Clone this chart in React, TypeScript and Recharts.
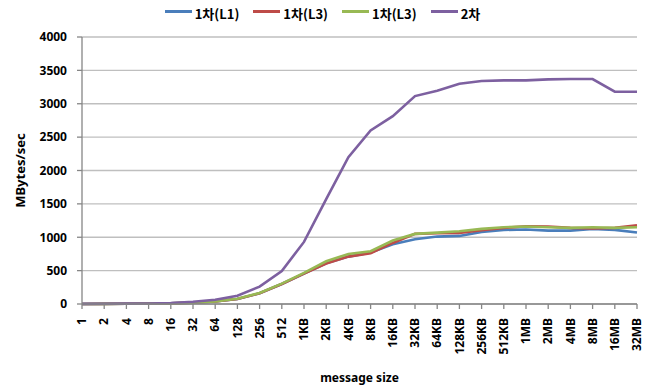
import React from 'react';
import { LineChart, Line, XAxis, YAxis, CartesianGrid, Label } from 'recharts';

const sizes = ['1', '2', '4', '8', '16', '32', '64', '128', '256', '512', '1KB', '2KB', '4KB', '8KB', '16KB', '32KB', '64KB', '128KB', '256KB', '512KB', '1MB', '2MB', '4MB', '8MB', '16MB', '32MB'];
const firstL1 = [1, 2, 3, 5, 10, 20, 40, 75, 160, 300, 455, 610, 710, 770, 895, 970, 1010, 1020, 1080, 1110, 1115, 1100, 1100, 1125, 1110, 1070];
const firstL3a = [1, 2, 3, 5, 10, 20, 40, 75, 160, 300, 455, 605, 710, 760, 915, 1050, 1060, 1065, 1105, 1140, 1165, 1160, 1140, 1130, 1140, 1180];
const firstL3b = [1, 2, 3, 5, 10, 20, 40, 78, 165, 305, 465, 640, 750, 790, 950, 1050, 1070, 1090, 1125, 1150, 1160, 1150, 1140, 1150, 1140, 1150];
const second = [2, 3, 5, 8, 15, 34, 64, 125, 260, 495, 930, 1570, 2200, 2600, 2815, 3115, 3195, 3300, 3340, 3350, 3350, 3365, 3370, 3370, 3180, 3180];
const yTicks = [0, 500, 1000, 1500, 2000, 2500, 3000, 3500, 4000];

const series = [
  { key: 'l1', name: '1차(L1)', color: '#4a7ebb', values: firstL1 },
  { key: 'l3a', name: '1차(L3)', color: '#be4b48', values: firstL3a },
  { key: 'l3b', name: '1차(L3)', color: '#98b954', values: firstL3b },
  { key: 'second', name: '2차', color: '#7d60a0', values: second },
];

const data = sizes.map((size, i) => {
  const row: Record<string, string | number> = { size };
  series.forEach((s) => { row[s.key] = s.values[i]; });
  return row;
});

const font = '"Noto Sans", "Noto Sans CJK KR", sans-serif';
const axisGray = '#868686';

const SizeTick = ({ x, y, payload }: any) => (
  <g transform={`translate(${x},${y})`}>
    <text x={-7} y={0} dy="0.35em" transform="rotate(-90)" textAnchor="end" fontSize={12} fontWeight="bold" fill="#000">
      {payload.value}
    </text>
  </g>
);

const YTitle = ({ viewBox }: any) => {
  const cx = (viewBox?.x ?? 22) - 2;
  const cy = (viewBox?.y ?? 37) + (viewBox?.height ?? 267) / 2;
  return (
    <text x={cx} y={cy} transform={`rotate(-90, ${cx}, ${cy})`} textAnchor="middle" dy="0.35em" fontSize={13} fontWeight="bold" fill="#000">
      MBytes/sec
    </text>
  );
};

const XTitle = ({ viewBox }: any) => {
  const cx = (viewBox?.x ?? 82) + (viewBox?.width ?? 555) / 2;
  const cy = (viewBox?.y ?? 304) + 74;
  return (
    <text x={cx} y={cy} textAnchor="middle" dy="0.35em" fontSize={12} fontWeight="bold" fill="#000">
      message size
    </text>
  );
};

export default function App() {
  return (
    <div style={{ position: 'absolute', left: 0, top: 0, width: 658, height: 389, background: '#fff', fontFamily: font }}>
      <div style={{ position: 'absolute', top: 4, left: 0, width: 645, display: 'flex', justifyContent: 'center', gap: 14 }}>
        {series.map((s) => (
          <div key={s.key} style={{ display: 'flex', alignItems: 'center' }}>
            <span style={{ display: 'inline-block', width: 27, height: 3, background: s.color, marginRight: 3, marginTop: -4 }} />
            <span style={{ fontSize: 13, fontWeight: 'bold', fontFamily: '"Noto Sans CJK KR", sans-serif' }}>{s.name}</span>
          </div>
        ))}
      </div>
      <LineChart width={658} height={389} data={data} margin={{ top: 37, right: 21, bottom: 15, left: 22 }}>
        <CartesianGrid vertical={false} stroke="#bfbfbf" strokeWidth={1.3} />
        <XAxis
          dataKey="size"
          interval={0}
          height={70}
          tick={<SizeTick />}
          tickSize={5}
          stroke={axisGray}
          strokeWidth={1.3}
        >
          <Label content={<XTitle />} />
        </XAxis>
        <YAxis
          domain={[0, 4000]}
          ticks={yTicks}
          width={60}
          tickSize={5}
          tickMargin={10}
          stroke={axisGray}
          strokeWidth={1.3}
          tick={{ fontSize: 12, fontWeight: 'bold', fill: '#000' }}
        >
          <Label content={<YTitle />} />
        </YAxis>
        {series.map((s) => (
          <Line
            key={s.key}
            dataKey={s.key}
            name={s.name}
            stroke={s.color}
            strokeWidth={2.6}
            dot={false}
            type="linear"
            isAnimationActive={false}
          />
        ))}
      </LineChart>
    </div>
  );
}
